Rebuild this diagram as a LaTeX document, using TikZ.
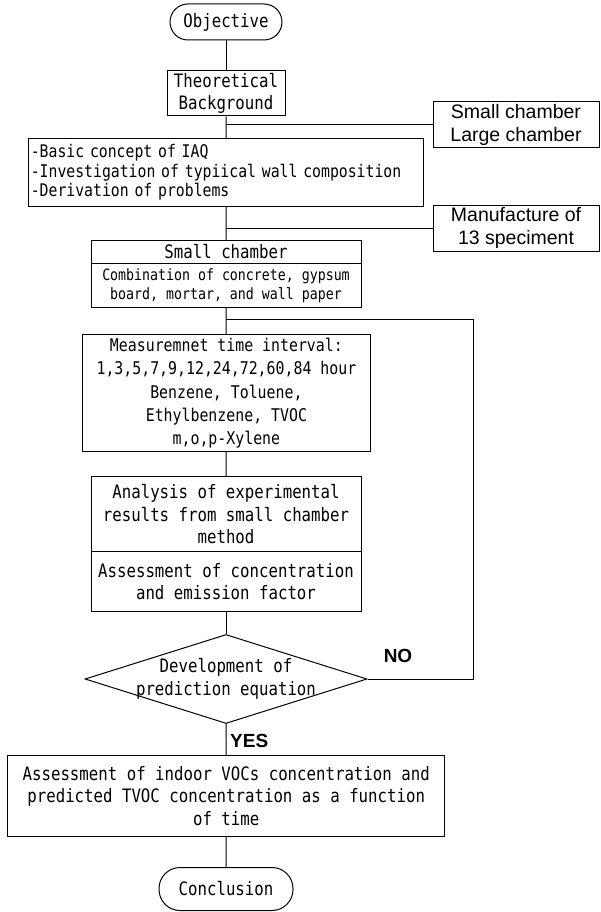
\documentclass[tikz,border=0pt]{standalone}
\usepackage{fontspec}
\usepackage{tikz}
\usetikzlibrary{shapes.geometric}
\newfontfamily\gfont[FakeStretch=0.85]{DejaVu Sans Mono}
\newfontfamily\afont{Liberation Sans}

\begin{document}
\begin{tikzpicture}[x=1pt,y=-1pt]
		\tikzset{box/.style={draw,line width=1pt,inner sep=0pt,align=center,font=\gfont\fontsize{18.5}{22.5}\selectfont},
			term/.style={box,rounded corners=#1},
			sidebox/.style={box,minimum width=166pt,minimum height=46pt,font=\afont\fontsize{19.5}{23.3}\selectfont},
			decision/.style={draw,line width=1pt,diamond,inner sep=0pt,minimum width=282pt,minimum height=89pt},
			answer/.style={font=\afont\bfseries\fontsize{19}{22}\selectfont},
			link/.style={line width=1pt}};
		\useasboundingbox (0,0) rectangle (600,912);
		\node[term=18pt,minimum width=112pt,minimum height=36pt] (obj) at (226,22) {Objective};
		\node[box,minimum width=118pt,minimum height=45pt] (theo) at (226,93.5) {Theoretical\\Background};
		\node[sidebox] (side1) at (516,125) {Small chamber\\Large chamber};
		\node[box,align=left,text width=391pt,inner xsep=2pt,minimum height=67pt,font=\gfont\fontsize{17.4}{19.5}\selectfont] (basic) at (226.3,172.5) {-Basic concept of IAQ\\-Investigation of typiical wall composition\\-Derivation of problems};
		\node[sidebox] (side2) at (516,228) {Manufacture of\\13 speciment};
		\node[box,minimum width=270pt,minimum height=22.6pt] (schead) at (226,252) {Small chamber};
		\node[box,minimum width=270pt,minimum height=44.4pt,font=\gfont\fontsize{15.6}{19}\selectfont] (scbody) at (226,285.5) {Combination of concrete, gypsum\\board, mortar, and wall paper};
		\node[box,minimum width=288pt,minimum height=116.7pt,font=\gfont\fontsize{17.5}{23.3}\selectfont] (meas) at (226.4,393.3) {Measuremnet time interval:\\1,3,5,7,9,12,24,72,60,84 hour\\Benzene, Toluene,\\Ethylbenzene, TVOC\\m,o,p-Xylene};
		\node[box,minimum width=270pt,minimum height=75pt] (ana) at (226,514.2) {Analysis of experimental\\results from small chamber\\method};
		\node[box,minimum width=270pt,minimum height=60pt] (ass1) at (226,581.7) {Assessment of concentration\\and emission factor};
		\node[decision] (dev) at (226,679) {};
		\node[font=\gfont\fontsize{18.5}{22.5}\selectfont,align=center,inner sep=0pt] (devtxt) at (dev) {Development of\\prediction equation};
		\node[box,minimum width=437pt,minimum height=80.3pt] (ass2) at (226.2,795.9) {Assessment of indoor VOCs concentration and\\predicted TVOC concentration as a function\\of time};
		\node[term=21pt,minimum width=134pt,minimum height=43pt] (concl) at (226,889) {Conclusion};
		\coordinate (back) at (473,319);
		\node[answer] (no) at (398,656) {NO};
		\node[answer,anchor=west,inner sep=0pt] (yes) at (230,741) {YES};
		\draw[link] (obj) -- (theo);
		\draw[link] (theo) -- (basic);
		\draw[link] (side1.west -| theo.south) -- (side1);
		\draw[link] (basic) -- (schead);
		\draw[link] (side2.west -| basic.south) -- (side2);
		\draw[link] (scbody) -- (meas);
		\draw[link] (meas) -- (ana);
		\draw[link] (ass1) -- (dev);
		\draw[link] (dev) -- (ass2);
		\draw[link] (ass2) -- (concl);
		\draw[link] (dev.east) -| (back) -- (back -| scbody.south);
	\end{tikzpicture}
\end{document}
